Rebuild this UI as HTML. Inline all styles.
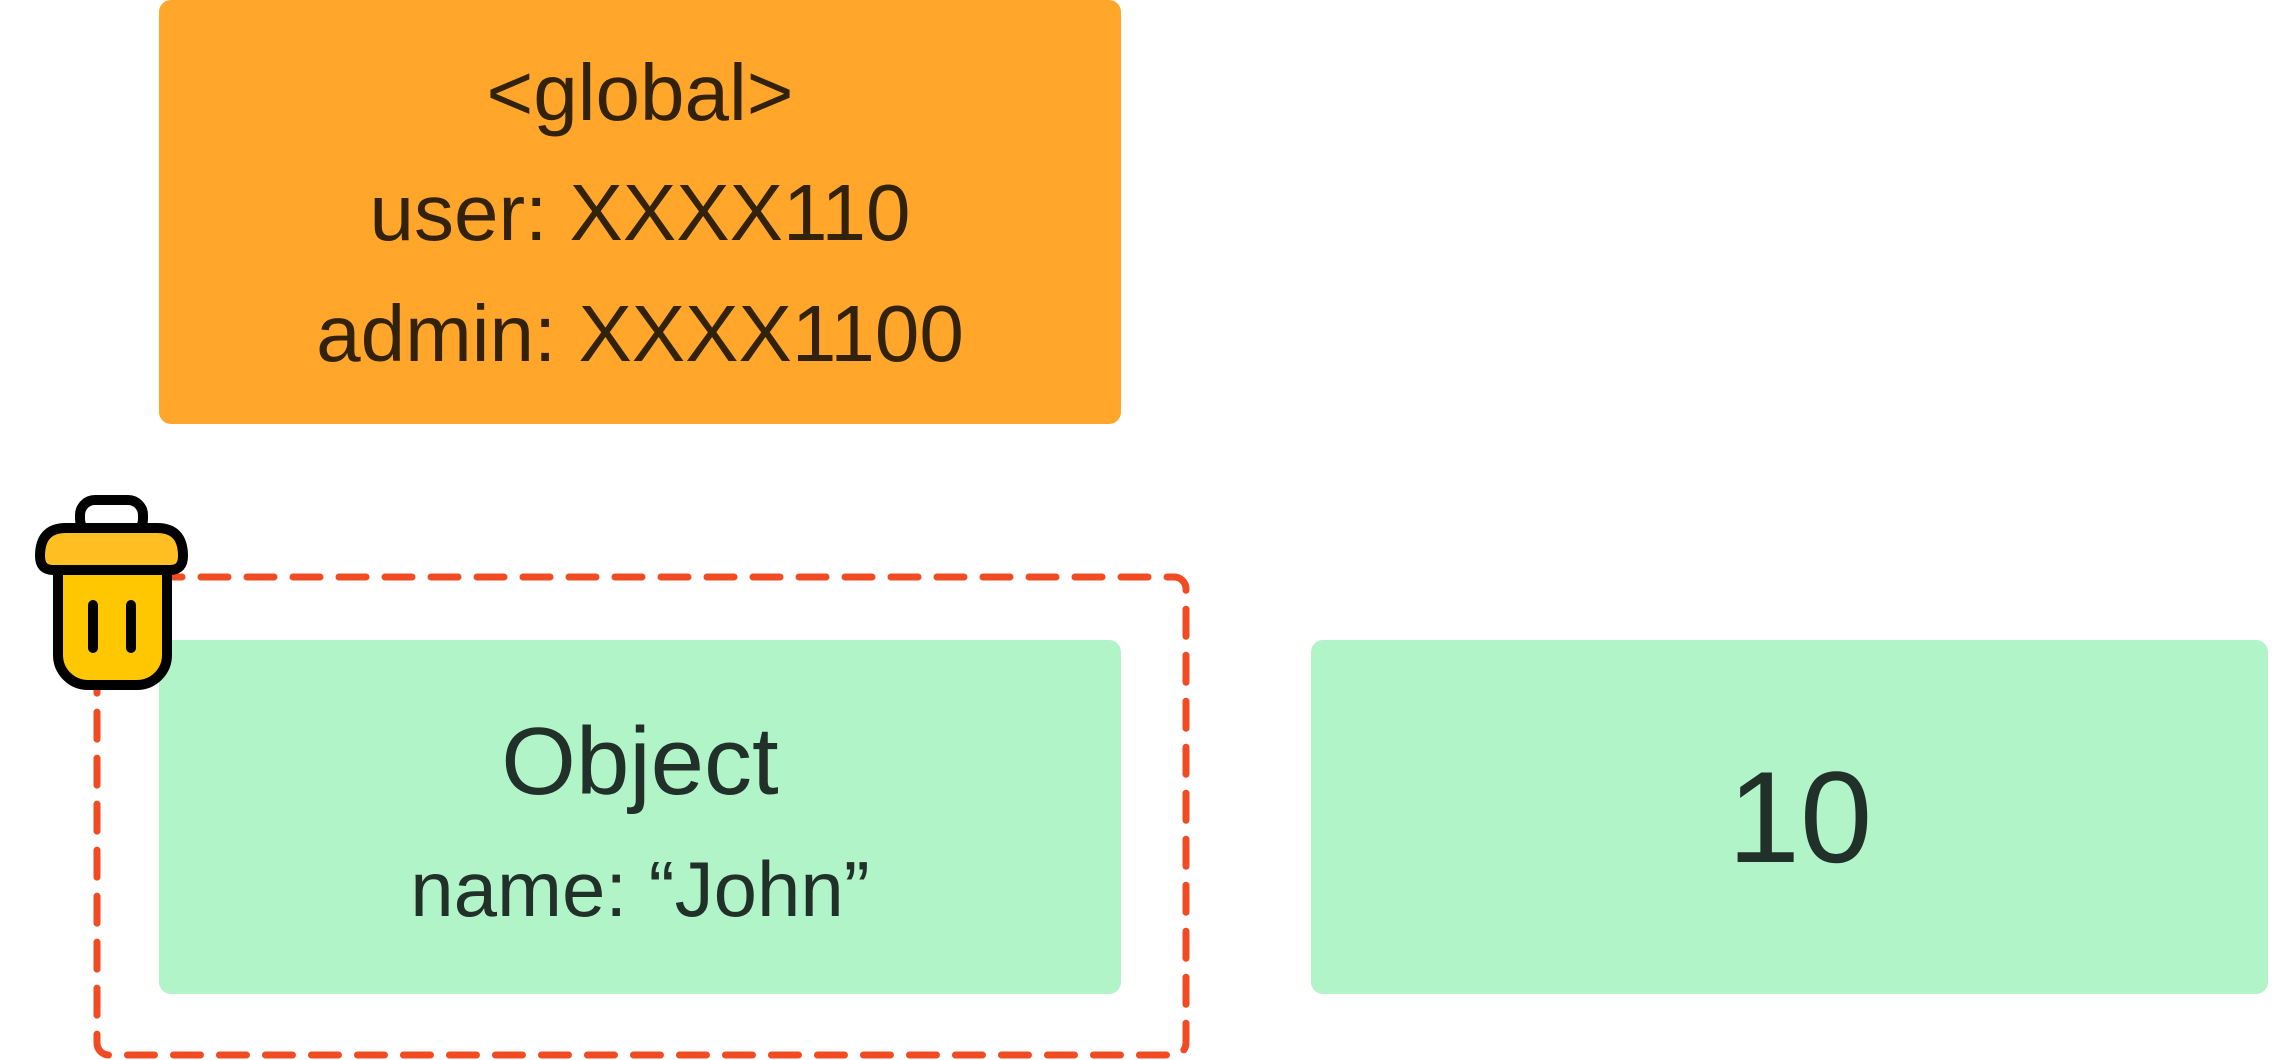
<!DOCTYPE html>
<html><head><meta charset="utf-8"><style>
html,body{margin:0;padding:0;background:#fff;}
svg{display:block}
text{font-family:"Liberation Sans",sans-serif;}
</style></head><body>
<svg width="2272" height="1060" viewBox="0 0 2272 1060" xmlns="http://www.w3.org/2000/svg">
<rect x="159" y="0" width="962" height="424" rx="12" fill="#FFA62B"/>
<g fill="#33220B" font-size="80" text-anchor="middle">
<text x="640" y="120">&lt;global&gt;</text>
<text x="640" y="240">user: XXXX110</text>
<text x="640" y="361">admin: XXXX1100</text>
</g>
<rect x="159" y="640" width="962" height="354" rx="12" fill="#B0F4C8"/>
<rect x="1311" y="640" width="957" height="354" rx="12" fill="#B0F4C8"/>
<g fill="#22302A" text-anchor="middle">
<text x="640" y="794" font-size="96">Object</text>
<text x="640" y="916" font-size="78">name: “John”</text>
<text x="1800" y="862" font-size="130">10</text>
</g>
<rect x="97" y="577" width="1089" height="478" rx="12" fill="none" stroke="#F04B23" stroke-width="7" stroke-dasharray="27 19" stroke-linecap="round"/>
<g stroke="#000" stroke-width="10" stroke-linejoin="round">
<rect x="80" y="500" width="63" height="34" rx="15" fill="#fff"/>
<path d="M58 568 V655 a30 30 0 0 0 30 30 H137 a30 30 0 0 0 30 -30 V568 Z" fill="#FFC700"/>
<path d="M40 556 Q40 528 66 528 H157 Q183 528 183 556 Q183 570 170 570 H53 Q40 570 40 556 Z" fill="#FFBF22"/>
<line x1="93" y1="605" x2="93" y2="648" stroke-linecap="round"/>
<line x1="131" y1="605" x2="131" y2="648" stroke-linecap="round"/>
</g>
</svg>
</body></html>
